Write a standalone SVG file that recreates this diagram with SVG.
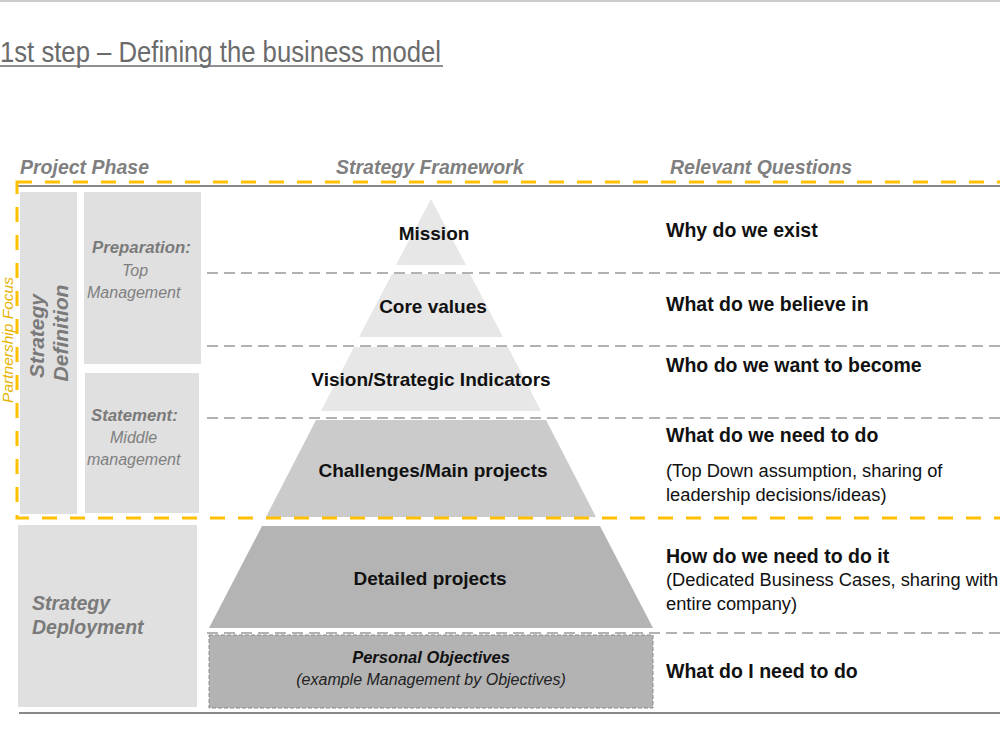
<svg xmlns="http://www.w3.org/2000/svg" width="1000" height="749" viewBox="0 0 1000 749">
<style>
.t{font-family:"Liberation Sans",Arial,sans-serif}
.hdr{font-size:19.5px;font-weight:bold;font-style:italic;fill:#7f7f7f}
.ph{font-weight:bold;font-style:italic;fill:#7a7a7a}
.sub{font-size:16px;font-style:italic;fill:#7f7f7f}
.lvl{font-size:19px;font-weight:bold;fill:#111;text-anchor:middle}
.q{font-size:19.5px;font-weight:bold;fill:#111}
.qn{font-size:18.3px;fill:#111}
.box{fill:#e0e0e0}
.light{fill:#e7e7e7}
.sep{stroke:#999;stroke-width:1.5;stroke-dasharray:11 6;fill:none}
.rule{stroke:#888;stroke-width:2;fill:none}
</style>
<rect width="1000" height="749" fill="#fff"/>
<line x1="0" y1="1" x2="1000" y2="1" stroke="#bbb" stroke-width="1.5"/>
<g id="title">
<text class="t" x="0" y="62" font-size="29" fill="#6b6b6b" textLength="441" lengthAdjust="spacingAndGlyphs">1st step – Defining the business model</text>
<line x1="0" y1="66" x2="443" y2="66" stroke="#6b6b6b" stroke-width="1.5"/>
</g>
<g id="headers" class="t hdr">
<text x="20" y="174">Project Phase</text>
<text x="336" y="174">Strategy Framework</text>
<text x="670" y="174">Relevant Questions</text>
</g>
<line class="rule" x1="18" y1="186" x2="1000" y2="186"/>
<line class="rule" x1="19" y1="713" x2="1000" y2="713"/>
<g id="connectors">
<line class="sep" x1="207" y1="273" x2="1000" y2="273"/>
<line class="sep" x1="207" y1="346" x2="1000" y2="346"/>
<line class="sep" x1="207" y1="418" x2="1000" y2="418"/>
<line class="sep" x1="207" y1="633" x2="1000" y2="633"/>
</g>
<g id="strategy-definition">
<rect class="box" x="20" y="192" width="57" height="322"/>
<text class="t ph" font-size="21" text-anchor="middle" transform="translate(44,336) rotate(-90)">Strategy</text>
<text class="t ph" font-size="21" text-anchor="middle" transform="translate(68,333) rotate(-90)">Definition</text>
</g>
<g id="preparation">
<rect class="box" x="84" y="192" width="117" height="172"/>
<text class="t ph" x="92" y="253" font-size="16.8">Preparation:</text>
<text class="t sub" x="122" y="276">Top</text>
<text class="t sub" x="87" y="298">Management</text>
</g>
<g id="statement">
<rect class="box" x="85" y="373" width="114" height="140"/>
<text class="t ph" x="91" y="421" font-size="16.8">Statement:</text>
<text class="t sub" x="110" y="443">Middle</text>
<text class="t sub" x="87" y="465">management</text>
</g>
<g id="strategy-deployment">
<rect class="box" x="18" y="525" width="179" height="182"/>
<text class="t ph" x="32" y="610" font-size="19.5">Strategy</text>
<text class="t ph" x="32" y="634" font-size="19.5">Deployment</text>
</g>
<g id="mission">
<polygon class="light" points="431,199 466,265 396,265"/>
<text class="t lvl" x="434" y="240">Mission</text>
</g>
<g id="core-values">
<polygon class="light" points="392,274 470,274 503,337 359,337"/>
<text class="t lvl" x="433" y="313">Core values</text>
</g>
<g id="vision">
<polygon class="light" points="354,347 508,347 541,411 321,411"/>
<text class="t lvl" x="431" y="386">Vision/Strategic Indicators</text>
</g>
<g id="challenges">
<polygon fill="#cbcbcb" points="316,420 546,420 596,517 266,517"/>
<text class="t lvl" x="433" y="477">Challenges/Main projects</text>
</g>
<g id="detailed-projects">
<polygon fill="#b4b4b4" points="262,526 600,526 653,628 209,628"/>
<text class="t lvl" x="430" y="585">Detailed projects</text>
</g>
<g id="personal-objectives">
<rect x="209" y="635" width="444" height="73" fill="#b3b3b3" stroke="#8a8a8a" stroke-width="1" stroke-dasharray="4 2"/>
<text class="t" x="431" y="663" font-size="16.5" font-weight="bold" font-style="italic" fill="#111" text-anchor="middle">Personal Objectives</text>
<text class="t" x="431" y="685" font-size="16" font-style="italic" fill="#222" text-anchor="middle">(example Management by  Objectives)</text>
</g>
<g id="questions" class="t">
<text class="q" x="666" y="237">Why do we exist</text>
<text class="q" x="666" y="311">What do we believe in</text>
<text class="q" x="666" y="372">Who do we want to become</text>
<text class="q" x="666" y="442">What do we need to do</text>
<text class="qn" x="666" y="477">(Top Down assumption, sharing of</text>
<text class="qn" x="666" y="501">leadership decisions/ideas)</text>
<text class="q" x="666" y="563">How do we need to do it</text>
<text class="qn" x="666" y="586">(Dedicated Business Cases, sharing with</text>
<text class="qn" x="666" y="610">entire company)</text>
<text class="q" x="666" y="678">What do I need to do</text>
</g>
<g id="partnership-focus">
<rect x="17" y="182" width="1000" height="336" fill="none" stroke="#ffc000" stroke-width="3" stroke-dasharray="15 13"/>
<text class="t" font-size="15.5" font-style="italic" fill="#e6b400" text-anchor="middle" transform="translate(12.5,340) rotate(-90)">Partnership Focus</text>
</g>
</svg>
